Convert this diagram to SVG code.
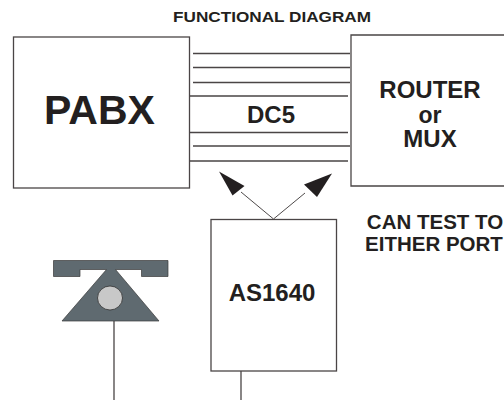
<svg xmlns="http://www.w3.org/2000/svg" width="504" height="400" viewBox="0 0 504 400">
<style>
text{font-family:"Liberation Sans",Arial,sans-serif;font-weight:bold;fill:#231f20;text-anchor:middle}
.box{fill:#fff;stroke:#4a4546;stroke-width:1.3}
.ln{fill:none;stroke:#4a4546;stroke-width:1.3}
.thin{fill:none;stroke:#3a3536;stroke-width:.9}
.head{fill:#231f20}
.ph{fill:#5f6a70;stroke:#3a3a3a;stroke-width:.7}
</style>
<rect width="504" height="400" fill="#fff"/>
<text x="272" y="21.500" font-size="15" textLength="198" lengthAdjust="spacingAndGlyphs">FUNCTIONAL DIAGRAM</text>
<g id="connectors">
<path class="ln" d="M193 53.500H350M193 67.500H350M193 82.500H350M190 96H348M190 132.500H348M193 146H350M190 161H348"/>
<path class="thin" d="M273.500 219L241 192M273.500 219L305 193"/>
<path class="head" d="M219 171.500L244.500 186L232.500 195.500Z"/>
<path class="head" d="M332 173.500L317 197L304 184.500Z"/>
<path class="ln" d="M114 321V400M241 371V400"/>
</g>
<g id="pabx"><rect class="box" x="13.500" y="37" width="176" height="151"/><text x="99.500" y="124" font-size="41">PABX</text></g>
<g id="router"><path class="box" d="M504 35H351V186H504"/><text x="430" y="98" font-size="24">ROUTER</text><text x="430" y="122.500" font-size="23">or</text><text x="430" y="147" font-size="24">MUX</text></g>
<text id="dc5" x="271" y="123" font-size="24">DC5</text>
<g id="as1640"><rect class="box" x="211" y="219.500" width="125.500" height="151.500"/><text x="272" y="301" font-size="24">AS1640</text></g>
<g id="note"><text x="435" y="228.500" font-size="20.500">CAN TEST TO</text><text x="434" y="250.500" font-size="20.500">EITHER PORT</text></g>
<g id="phone">
<path class="ph" d="M53.500 260.500H168V276.500H141.500V269.500H115.500L159 321H62L106.500 269.500H80V276.500H53.500Z"/>
<ellipse cx="110" cy="298" rx="12.500" ry="12" fill="#c8c8c8" stroke="#2f2f2f" stroke-width=".8"/>
</g>
</svg>
